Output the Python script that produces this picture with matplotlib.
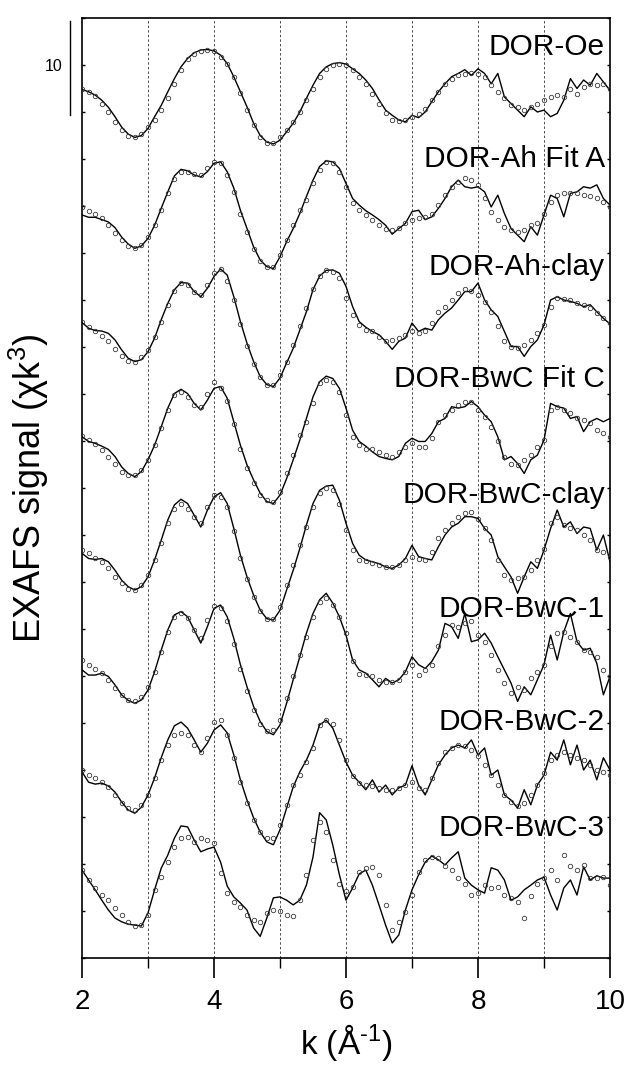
import numpy as np
import matplotlib
matplotlib.use("Agg")
import matplotlib.pyplot as plt

plt.rcParams['font.family'] = ['Liberation Sans', 'DejaVu Sans']
plt.rcParams['mathtext.fontset'] = 'custom'
plt.rcParams['mathtext.rm'] = 'Liberation Sans'
plt.rcParams['mathtext.it'] = 'Liberation Sans:italic'
plt.rcParams['mathtext.default'] = 'regular'

# photoelectron wavenumber grid (1/Angstrom)
k = np.linspace(2.0, 10.0, 81)

names = ["DOR-Oe", "DOR-Ah Fit A", "DOR-Ah-clay", "DOR-BwC Fit C",
         "DOR-BwC-clay", "DOR-BwC-1", "DOR-BwC-2", "DOR-BwC-3"]

# vertical offsets used to stack the spectra
offsets = [92.5, 79.0, 67.0, 55.0, 43.0, 31.0, 19.0, 7.0]

# k^3-weighted chi(k): fits (lines) and measured spectra (circles)
fit_oe = [-0.1, -0.35, -0.7, -1.25, -2.0, -3.0, -4.1, -4.85, -5.2, -5.0,
          -4.25, -3.0, -1.8, -0.35, 1.05, 2.3, 3.2, 3.8, 4.1, 4.15,
          4.0, 3.55, 2.65, 1.25, -0.35, -1.95, -3.7, -5.0, -5.7, -5.9,
          -5.5, -4.6, -3.7, -2.5, -1.05, 0.35, 1.6, 2.3, 2.65, 2.75,
          2.6, 2.1, 1.6, 0.9, 0.0, -1.2, -2.3, -2.85, -3.35, -3.55,
          -2.85, -3.1, -2.5, -1.4, -0.35, 0.5, 1.25, 1.6, 2.0, 1.4,
          2.1, 1.6, 0.5, 1.6, -0.9, -1.6, -2.3, -3.0, -1.95, -2.5,
          -2.3, -3.0, -2.65, -1.25, 1.05, 0.0, 0.9, 0.35, 1.6, 0.7,
          -0.2]
data_oe = [0.0, -0.35, -0.8, -1.6, -2.5, -3.55, -4.45, -5.0, -5.15, -4.8,
           -4.1, -3.35, -2.3, -1.05, 0.5, 1.95, 3.1, 3.7, 4.0, 4.1,
           4.0, 3.35, 2.65, 1.25, -0.5, -2.3, -3.9, -5.15, -5.8, -5.8,
           -5.15, -4.45, -3.55, -2.5, -1.25, 0.0, 1.25, 2.1, 2.5, 2.65,
           2.5, 1.95, 1.25, 0.5, -0.6, -1.7, -2.6, -3.35, -3.45, -3.35,
           -3.0, -2.75, -2.15, -1.25, -0.35, 0.5, 1.05, 1.4, 1.5, 1.6,
           1.5, 1.25, 0.35, -0.35, -1.05, -1.8, -2.0, -2.3, -2.0, -1.6,
           -1.25, -0.9, -0.7, -0.9, 0.0, -0.55, 0.2, 0.5, 0.35, 0.5,
           0.0]

fit_ah = [0.05, -0.2, -0.2, -0.45, -0.7, -1.3, -2.3, -3.05, -3.5, -3.25,
          -2.45, -1.05, 0.75, 2.5, 4.2, 4.9, 4.75, 4.3, 4.1, 4.65,
          5.55, 5.7, 4.65, 2.9, 0.55, -1.4, -3.35, -4.75, -5.45, -5.65,
          -4.4, -2.8, -1.4, 0.2, 2.0, 3.75, 5.2, 5.8, 5.7, 5.0,
          3.4, 1.8, 1.1, 0.5, 0.05, -0.45, -1.05, -2.0, -1.4, -0.85,
          0.4, 0.55, -0.45, -0.15, 0.75, 1.8, 3.05, 3.75, 3.05, 2.9,
          3.05, 2.5, 0.9, 2.15, 0.2, -1.4, -2.1, -2.8, -1.2, -2.1,
          0.05, 2.15, 1.8, -0.15, 2.35, 2.5, 3.05, 2.9, 3.25, 1.8,
          1.1]
data_ah = [0.9, 0.5, 0.15, -0.3, -1.05, -1.9, -2.6, -3.25, -3.5, -3.15,
           -2.25, -1.05, 0.55, 2.35, 3.85, 4.65, 4.65, 4.4, 4.3, 5.0,
           5.7, 5.55, 4.3, 2.5, 0.2, -1.8, -3.6, -4.85, -5.45, -5.45,
           -4.2, -2.6, -1.05, 0.55, 1.65, 3.4, 4.8, 5.7, 5.6, 4.65,
           3.05, 1.3, 0.55, 0.05, -0.5, -1.05, -1.4, -1.55, -1.3, -0.8,
           -0.5, -0.3, -0.15, 0.2, 1.1, 2.15, 3.05, 3.6, 3.95, 3.75,
           3.25, 1.8, 0.4, -0.5, -1.2, -1.55, -1.75, -1.55, -1.05, -0.8,
           0.2, 1.45, 2.15, 2.35, 2.4, 2.35, 2.15, 2.05, 1.8, 1.45,
           0.9]

fit_ahclay = [0.6, 0.0, -0.25, -0.3, -0.55, -1.25, -2.3, -3.2, -3.55, -3.35,
              -2.5, -1.05, 0.9, 2.65, 4.1, 4.85, 4.8, 3.9, 3.35, 4.25,
              5.5, 6.3, 5.65, 3.35, 0.7, -1.6, -3.55, -5.15, -6.0, -6.2,
              -5.3, -3.7, -2.15, -0.2, 1.75, 4.1, 5.55, 6.15, 6.2, 5.85,
              4.45, 2.3, 0.7, 0.1, -0.35, -0.7, -1.4, -2.25, -1.4, -1.05,
              0.55, -0.35, 0.0, -0.2, 0.9, 1.6, 2.15, 3.0, 3.9, 3.9,
              4.8, 3.0, 1.95, 1.25, -0.35, -1.95, -1.95, -3.0, -1.95, -1.25,
              0.35, 3.0, 3.35, 3.0, 2.85, 2.65, 2.3, 2.5, 1.75, 1.05,
              0.45]
data_ahclay = [0.7, 0.1, -0.25, -0.8, -1.4, -2.25, -3.0, -3.5, -3.6, -3.1,
               -2.3, -0.9, 0.7, 2.5, 4.0, 4.85, 4.6, 3.8, 3.55, 4.6,
               5.9, 6.3, 5.0, 3.0, 0.4, -1.9, -3.8, -5.2, -6.0, -6.0,
               -4.95, -3.55, -1.75, 0.2, 2.15, 4.15, 5.55, 6.15, 6.0, 5.3,
               3.2, 1.4, 0.35, -0.2, -0.35, -0.9, -1.4, -1.25, -1.05, -0.7,
               -0.35, -0.55, -0.35, 0.55, 1.75, 2.3, 3.0, 3.7, 4.15, 4.0,
               3.55, 2.75, 1.75, 0.2, -1.4, -1.95, -2.15, -1.75, -1.25, -0.55,
               0.35, 2.3, 3.2, 3.1, 3.0, 2.65, 2.5, 2.15, 1.6, 1.05,
               0.55]

fit_bwcfit = [0.45, -0.05, -0.25, -0.55, -0.9, -1.65, -2.75, -3.45, -3.8, -3.25,
              -2.0, -0.45, 1.5, 3.5, 5.05, 5.5, 5.05, 4.0, 3.3, 4.35,
              5.6, 5.8, 4.55, 2.05, -0.45, -2.55, -4.15, -5.55, -6.45, -6.65,
              -5.75, -4.0, -2.0, 0.1, 2.4, 4.7, 6.3, 6.9, 6.65, 5.6,
              3.5, 1.15, -0.05, -0.55, -1.15, -1.65, -1.85, -2.0, -1.65, -0.25,
              0.3, -0.05, -0.05, 0.8, 2.05, 2.4, 3.65, 3.5, 3.65, 4.2,
              3.65, 2.75, 2.05, 0.45, -2.0, -1.65, -2.4, -3.45, -2.0, -1.5,
              0.1, 4.0, 3.65, 3.5, 2.4, 2.6, 1.0, 2.05, 2.4, 2.05,
              2.4]
data_bwcfit = [0.55, 0.1, -0.3, -0.95, -1.65, -2.45, -3.25, -3.6, -3.6, -3.1,
               -2.0, -0.45, 1.35, 3.3, 4.9, 5.25, 4.7, 3.85, 3.65, 5.05,
               6.3, 5.6, 4.3, 1.8, -0.8, -2.9, -4.5, -5.75, -6.3, -6.45,
               -5.4, -3.45, -1.5, 0.65, 2.05, 4.0, 6.15, 6.5, 6.3, 5.25,
               2.75, 0.45, -0.45, -0.8, -0.8, -1.15, -1.5, -1.65, -1.15, -0.6,
               -0.25, -0.6, -0.65, 0.3, 2.05, 2.75, 3.3, 3.85, 4.1, 4.1,
               3.3, 2.6, 1.5, -0.05, -1.65, -2.4, -2.55, -2.0, -1.5, -0.6,
               0.1, 3.3, 3.65, 3.35, 2.95, 2.5, 2.25, 1.9, 1.15, 0.8,
               0.45]

fit_bwcclay = [0.05, -0.5, -0.6, -0.5, -0.85, -1.75, -2.8, -3.5, -3.85, -3.5,
               -2.45, -0.65, 1.45, 3.6, 5.2, 5.8, 5.35, 4.1, 2.85, 4.65,
               6.05, 6.5, 5.35, 2.7, -0.15, -2.45, -4.4, -6.0, -6.9, -7.05,
               -6.0, -3.85, -1.75, 0.55, 3.05, 5.35, 6.75, 7.2, 7.3, 5.7,
               3.25, 1.1, -0.15, -0.65, -0.85, -1.05, -1.4, -1.55, -1.2, -0.5,
               0.9, -0.3, -0.5, -0.65, 0.75, 2.0, 2.85, 3.25, 3.95, 3.95,
               3.75, 2.7, 2.0, -0.3, -1.4, -2.45, -4.2, -2.45, -0.85, -1.55,
               0.4, 2.7, 4.65, 2.85, 3.4, 2.15, 2.85, 2.7, 0.4, 2.0,
               -0.85]
data_bwcclay = [0.45, 0.05, -0.4, -0.85, -1.55, -2.45, -3.15, -3.7, -3.8, -3.35,
                -2.25, -0.65, 1.1, 3.25, 4.8, 5.35, 4.8, 3.95, 3.25, 5.0,
                6.25, 6.05, 5.0, 2.4, -0.4, -2.7, -4.6, -6.1, -6.9, -6.9,
                -5.65, -3.35, -1.2, 0.9, 2.85, 5.0, 6.5, 6.95, 6.75, 5.35,
                2.5, 0.4, -0.65, -0.75, -0.95, -1.2, -1.45, -1.4, -1.2, -0.65,
                -0.3, -0.5, -0.65, 0.2, 1.65, 2.5, 3.25, 3.95, 4.3, 4.45,
                3.75, 2.7, 1.45, -0.65, -2.25, -2.8, -2.6, -2.45, -1.75, -0.65,
                0.55, 3.25, 3.95, 3.05, 2.7, 2.5, 2.0, 1.45, 0.4, 0.2,
                -0.3]

fit_bwc1 = [-0.35, -0.9, -0.9, -0.7, -1.05, -1.95, -3.0, -3.6, -3.9, -3.55,
            -2.5, -0.55, 1.75, 3.9, 5.5, 5.85, 5.3, 3.9, 2.5, 4.25,
            6.2, 6.55, 5.3, 3.0, 0.2, -2.15, -4.25, -5.85, -6.9, -7.25,
            -6.2, -3.9, -1.4, 1.05, 3.55, 5.65, 7.1, 7.8, 6.75, 5.3,
            3.35, 0.7, -0.35, -0.7, -1.4, -2.15, -1.25, -1.75, -1.4, -0.55,
            1.05, 0.2, -0.2, 0.55, 1.75, 4.6, 4.25, 3.0, 5.65, 2.65,
            2.85, 3.55, 2.5, 1.05, -0.35, -1.75, -3.7, -2.15, -3.0, -1.4,
            0.2, 3.35, 0.7, 3.7, 5.65, 2.65, 1.75, 1.95, 0.35, -3.0,
            -1.05]
data_bwc1 = [0.7, 0.2, -0.3, -0.7, -1.4, -2.3, -3.0, -3.55, -3.7, -3.25,
             -2.15, -0.55, 1.6, 3.7, 5.3, 5.75, 5.15, 3.9, 3.0, 4.95,
             6.4, 6.2, 4.8, 2.4, -0.3, -2.6, -4.6, -6.1, -6.9, -6.75,
             -5.65, -3.35, -1.05, 1.25, 3.2, 5.3, 6.9, 7.25, 6.55, 5.3,
             3.6, 0.6, -0.8, -0.9, -1.05, -1.4, -1.6, -1.6, -1.4, -0.55,
             0.2, -0.9, -0.35, 0.2, 2.15, 3.35, 4.45, 4.25, 4.6, 4.8,
             3.35, 2.65, 1.25, -0.35, -1.75, -2.85, -2.15, -2.5, -1.25, -0.55,
             0.2, 2.15, 3.55, 3.7, 3.2, 2.65, 1.75, 1.6, 1.05, -0.35,
             -1.05]

fit_bwc2 = [0.8, -0.3, -0.5, -0.4, -0.7, -1.35, -2.4, -3.25, -3.6, -2.95,
            -1.65, 0.15, 2.3, 4.2, 5.7, 6.1, 5.45, 4.2, 2.9, 3.85,
            5.25, 5.8, 4.95, 2.6, -0.05, -2.2, -4.1, -5.6, -6.65, -6.95,
            -5.35, -3.05, -0.8, 0.8, 2.05, 3.65, 5.8, 6.3, 5.45, 3.65,
            1.85, 0.45, -0.3, -1.1, -0.05, -1.35, -0.6, -1.65, -0.9, -0.6,
            1.45, -0.6, -1.65, -0.05, 1.55, 2.6, 3.35, 3.65, 3.35, 4.2,
            2.6, 3.35, 0.45, 1.0, -1.65, -2.2, -3.05, -1.1, -2.7, -0.6,
            0.45, 2.9, 2.05, 4.2, 1.55, 3.65, 1.0, 2.05, -0.05, 2.3,
            1.0]
data_bwc2 = [1.0, 0.45, 0.15, -0.3, -0.8, -1.65, -2.5, -3.05, -3.25, -2.7,
             -1.65, 0.15, 2.05, 3.65, 4.7, 4.95, 4.7, 3.65, 2.9, 4.4,
             6.1, 6.35, 4.7, 2.3, -0.3, -2.5, -4.3, -5.6, -6.2, -6.2,
             -4.85, -2.7, -0.6, 0.45, 1.85, 3.35, 5.8, 6.3, 5.9, 4.2,
             2.05, 0.35, -0.4, -0.6, -0.7, -0.9, -1.1, -1.1, -0.9, -0.6,
             -0.3, -0.9, -1.1, 0.15, 1.75, 2.9, 3.35, 3.65, 3.55, 3.15,
             2.5, 1.55, 0.45, -0.6, -1.65, -2.4, -2.85, -2.5, -1.65, -0.6,
             0.7, 2.05, 2.6, 2.9, 2.6, 2.3, 2.05, 1.55, 1.0, 0.8,
             0.45]

fit_bwc3 = [2.35, 1.3, 0.25, -0.85, -1.9, -2.75, -3.15, -3.4, -3.5, -3.6,
            -2.2, 0.25, 2.55, 3.95, 5.75, 7.05, 6.95, 5.55, 4.3, 4.6,
            4.8, 3.2, 0.65, -0.5, -1.15, -1.9, -3.8, -4.7, -2.75, -0.6,
            -0.5, -0.85, -1.35, -0.85, 0.75, 3.75, 8.45, 7.7, 5.0, 1.85,
            -0.85, 0.45, 1.95, 2.35, 0.75, -1.35, -3.5, -5.4, -4.55, -1.9,
            0.25, 1.85, 3.2, 3.85, 3.45, 2.9, 3.65, 4.3, 1.5, 0.75,
            0.25, -0.1, 2.6, 2.35, 1.3, -0.85, -0.5, 0.25, 0.75, 1.3,
            1.6, -0.3, -1.9, 0.45, 1.3, -0.3, 2.7, 1.3, 1.75, 1.5,
            1.5]
data_bwc3 = [2.35, 1.3, 0.45, -0.3, -0.85, -1.7, -2.45, -3.15, -3.6, -3.5,
             -2.45, 0.25, 1.6, 3.2, 4.8, 5.75, 5.85, 5.35, 5.75, 5.55,
             5.25, 2.05, -0.1, -1.05, -1.55, -2.45, -2.95, -3.15, -2.2, -1.9,
             -2.0, -2.45, -2.55, -0.85, 1.85, 5.55, 7.45, 6.4, 3.45, 0.85,
             0.15, 0.55, 2.15, 2.55, 2.7, 1.85, -1.35, -4.0, -3.15, -2.1,
             -0.3, 2.15, 3.45, 3.75, 3.65, 2.8, 2.35, 1.5, 0.85, -0.3,
             -0.1, 0.75, 0.45, 0.55, -0.3, -0.6, -1.05, -2.75, -0.4, 0.85,
             1.5, 2.35, 1.3, 3.95, 2.8, 2.35, 2.9, 1.5, 1.5, 1.6,
             0.75]

fits = [fit_oe, fit_ah, fit_ahclay, fit_bwcfit, fit_bwcclay, fit_bwc1, fit_bwc2, fit_bwc3]
datas = [data_oe, data_ah, data_ahclay, data_bwcfit, data_bwcclay, data_bwc1, data_bwc2, data_bwc3]

# baseline height of each spectrum name (axis units)
label_y = [96.06, 84.15, 72.66, 60.74, 48.4, 36.28, 24.3, 12.98]

fig = plt.figure(figsize=(6.28, 10.68), dpi=100)
ax = fig.add_axes([82 / 628, 1 - 958 / 1068, 528 / 628, 940 / 1068])
ax.set_xlim(2, 10)
ax.set_ylim(0, 100)

for xg in range(3, 10):
    ax.axvline(xg, color='#333333', lw=0.6, ls=(0, (3, 2.5)), zorder=0)

for off, fit, dat, name, ly in zip(offsets, fits, datas, names, label_y):
    ax.plot(k, off + np.asarray(fit), color='black', lw=1.0, zorder=2)
    ax.plot(k, off + np.asarray(dat), ls='none', marker='o', ms=3.2,
            mfc='none', mec='#3a3a3a', mew=0.6, zorder=3)
    ax.text(9.924, ly, name, ha='right', va='baseline', fontsize=21.5)

ax.set_xticks([2, 4, 6, 8, 10])
ax.set_xticks([3, 5, 7, 9], minor=True)
ax.set_yticks(np.arange(0, 101, 5))
ax.tick_params(axis='x', which='major', direction='out', length=14.4, width=1.2,
               labelsize=20, pad=8)
ax.tick_params(axis='x', which='minor', direction='out', length=7.2, width=1.0)
ax.tick_params(axis='y', which='major', direction='in', length=2.5, width=1.0,
               left=True, right=True, labelleft=False)
for sp in ax.spines.values():
    sp.set_linewidth(1.2)

# 10-unit scale bar
ax.plot([1.818, 1.818], [89.7, 99.7], color='black', lw=1.0, clip_on=False)
ax.text(1.70, 94.8, "10", ha='right', va='center', fontsize=11.5)

ax.set_xlabel(r'k (Å$^{\text{-1}}$)', fontsize=24)
ax.xaxis.set_label_coords(0.5, -0.068)
ax.set_ylabel(r'EXAFS signal ($\chi$k$^3$)', fontsize=26)
ax.yaxis.set_label_coords(-0.0578, 0.5)

fig.savefig('out.png', dpi=100)
